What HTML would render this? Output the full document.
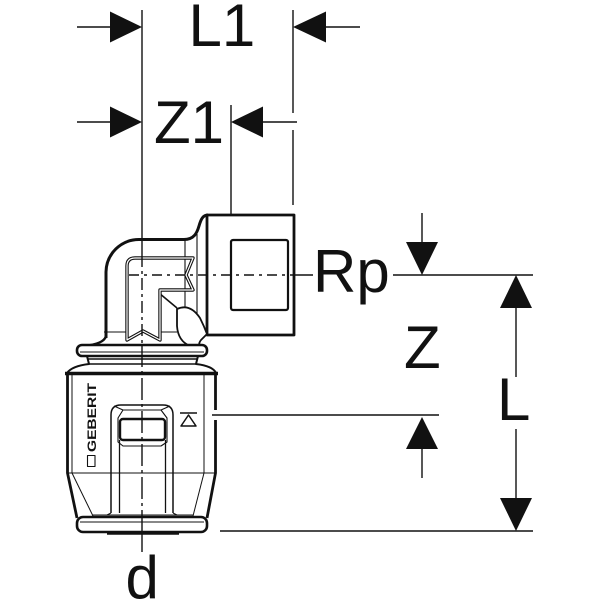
<!DOCTYPE html>
<html><head><meta charset="utf-8"><style>
html,body{margin:0;padding:0;background:#fff;}
svg{display:block;}
text{font-family:"Liberation Sans",Arial,sans-serif;fill:#111;}
</style></head><body>
<svg width="600" height="600" viewBox="0 0 600 600" xmlns="http://www.w3.org/2000/svg">
<rect width="600" height="600" fill="#fff"/>
<g stroke="#111" fill="none" stroke-linecap="butt">
  <line x1="142" y1="10" x2="142" y2="255" stroke-width="1.4"/>
  <line x1="293" y1="10" x2="293" y2="113" stroke-width="1.4"/>
  <line x1="293" y1="130" x2="293" y2="205" stroke-width="1.4"/>
  <line x1="231" y1="105" x2="231" y2="228" stroke-width="1.4"/>
  <line x1="77" y1="27" x2="112" y2="27" stroke-width="1.4"/>
  <line x1="325" y1="27" x2="360" y2="27" stroke-width="1.4"/>
  <line x1="77" y1="122" x2="112" y2="122" stroke-width="1.4"/>
  <line x1="261" y1="122" x2="297" y2="122" stroke-width="1.4"/>
  <line x1="294" y1="275" x2="313" y2="275" stroke-width="1.4"/>
  <line x1="393" y1="275" x2="533" y2="275" stroke-width="1.4"/>
  <line x1="422" y1="213" x2="422" y2="244" stroke-width="1.4"/>
  <line x1="422" y1="447" x2="422" y2="478" stroke-width="1.4"/>
  <line x1="212" y1="415" x2="439" y2="415" stroke-width="1.4"/>
  <line x1="516" y1="306" x2="516" y2="377" stroke-width="1.4"/>
  <line x1="516" y1="429" x2="516" y2="500" stroke-width="1.4"/>
  <line x1="220" y1="531" x2="533" y2="531" stroke-width="1.4"/>
  <line x1="142" y1="531" x2="142" y2="552" stroke-width="1.4"/>
</g>
<g fill="#111" stroke="none">
  <polygon points="142,27 110,11.5 110,42.5"/>
  <polygon points="293,27 326,11.5 326,42.5"/>
  <polygon points="142,122 110,106.5 110,137.5"/>
  <polygon points="231,122 263,106.5 263,137.5"/>
  <polygon points="422,275 406,242 438,242"/>
  <polygon points="422,417 406,449 438,449"/>
  <polygon points="516,275 500,308 532,308"/>
  <polygon points="516,531 500,498 532,498"/>
</g>
<text x="188.5" y="46" font-size="60">L1</text>
<text x="154" y="143" font-size="60">Z1</text>
<text x="313" y="292" font-size="60">Rp</text>
<text x="404" y="368" font-size="60">Z</text>
<text x="497" y="420" font-size="60">L</text>
<text x="125.5" y="598" font-size="60">d</text>

<g stroke="#111" fill="none" stroke-linejoin="round">
  <rect x="207" y="215" width="87" height="120" stroke-width="2.8" fill="#fff"/>
  <rect x="231" y="240" width="57" height="70" rx="2" stroke-width="2.2"/>
  <path d="M106,338 L106,272 A33,33 0 0 1 139,239.5 L184,239.5 C194,239.5 197,233 199,226 C201,219 203,215 208,215" stroke-width="3"/>
  <path d="M106,336 Q104,344 84,346" stroke-width="2.5"/>
  <line x1="185" y1="240" x2="185" y2="308" stroke-width="1.1"/>
  <line x1="197" y1="234" x2="197" y2="316" stroke-width="1.1"/>
  <line x1="104" y1="332" x2="127" y2="332" stroke-width="1.1"/>
  <line x1="159" y1="332" x2="177" y2="332" stroke-width="1.1"/>
  <line x1="159" y1="293" x2="177" y2="308" stroke-width="1.6"/>
  <path d="M177,309 Q190,303 200,318 Q204,326 207,334 L201,340 Q197,345 202,349 L190,346 Q178,341 177,326 Z" stroke-width="1.8" fill="#fff"/>
  <path d="M127,340 L127,266 Q127,258 135,258 L193,258 L186,275 L193,290 L160,290 L160,340 L143,331 Z" stroke-width="3.4"/>
  <path d="M127,340 L127,266 Q127,258 135,258 L193,258 L186,275 L193,290 L160,290 L160,340 L143,331 Z" stroke="#fff" stroke-width="1.2"/>
  <line x1="142" y1="255" x2="142" y2="345" stroke-width="1.4" stroke-dasharray="12,4,3,4"/>
  <line x1="129" y1="275" x2="294" y2="275" stroke-width="1.4" stroke-dasharray="10,5,3,5"/>
  <rect x="77" y="345" width="130" height="11" rx="5" stroke-width="2.6" fill="#fff"/>
  <line x1="80" y1="352" x2="204" y2="352" stroke-width="1"/>
  <path d="M87,356 L89,364 Q72,366 67,373" stroke-width="2"/>
  <path d="M198,356 L196,364 Q213,366 216,373" stroke-width="2"/>
  <line x1="88" y1="359" x2="197" y2="359" stroke-width="1.6"/>
  <line x1="89" y1="364" x2="196" y2="364" stroke-width="1.6"/>
  <line x1="65" y1="373.5" x2="218" y2="373.5" stroke-width="3.4"/>
  <path d="M67.5,373 L67.5,473 L77,518" stroke-width="2.8"/>
  <path d="M215.5,373 L215.5,410" stroke-width="2.8"/>
  <path d="M215.5,420 L215.5,473 L207,518" stroke-width="2.8"/>
  <line x1="72" y1="375" x2="72" y2="473" stroke-width="1"/>
  <line x1="204" y1="375" x2="204" y2="473" stroke-width="1"/>
  <line x1="68" y1="473" x2="215" y2="473" stroke-width="1"/>
  <line x1="72" y1="473" x2="93" y2="516" stroke-width="1"/>
  <line x1="204" y1="473" x2="193" y2="516" stroke-width="1"/>
  <line x1="92" y1="515" x2="193" y2="515" stroke-width="1"/>
  <!-- window -->
  <path d="M111,513 L111,415 Q111,405 121,405 L163,405 Q173,405 173,415 L173,513" stroke-width="1.5"/>
  <path d="M111,513 L107,515 M173,513 L177,515" stroke-width="1"/>
  <line x1="119.5" y1="440" x2="119.5" y2="513" stroke-width="1.3"/>
  <line x1="165.5" y1="440" x2="165.5" y2="513" stroke-width="1.3"/>
  <path d="M123,410 L161,410 L167,418 L167,442 L161,446 L123,446 L118,442 L118,418 Z" stroke-width="1.1"/>
  <rect x="120" y="419" width="45" height="21" rx="3" stroke-width="2.4"/>
  <path d="M123,410 L114,406 M161,410 L170,406" stroke-width="1"/>
  <line x1="180" y1="413" x2="197" y2="413" stroke-width="1.6"/>
  <polygon points="181,426 188.5,415 196,426" stroke-width="1.5"/>
  <rect x="87.5" y="455.5" width="7.5" height="11" stroke-width="1.1"/>
  <rect x="77" y="517" width="130" height="15" rx="6" stroke-width="2.6" fill="#fff"/>
  <line x1="80" y1="522" x2="204" y2="522" stroke-width="1"/>
  <line x1="107" y1="533.5" x2="179" y2="533.5" stroke-width="2.4"/>
  <line x1="142" y1="345" x2="142" y2="531" stroke-width="1.4" stroke-dasharray="22,4,3,4"/>
</g>
<text transform="translate(96,452) rotate(-90)" font-size="12" font-weight="bold" textLength="69" lengthAdjust="spacingAndGlyphs">GEBERIT</text>
</svg>
</body></html>
